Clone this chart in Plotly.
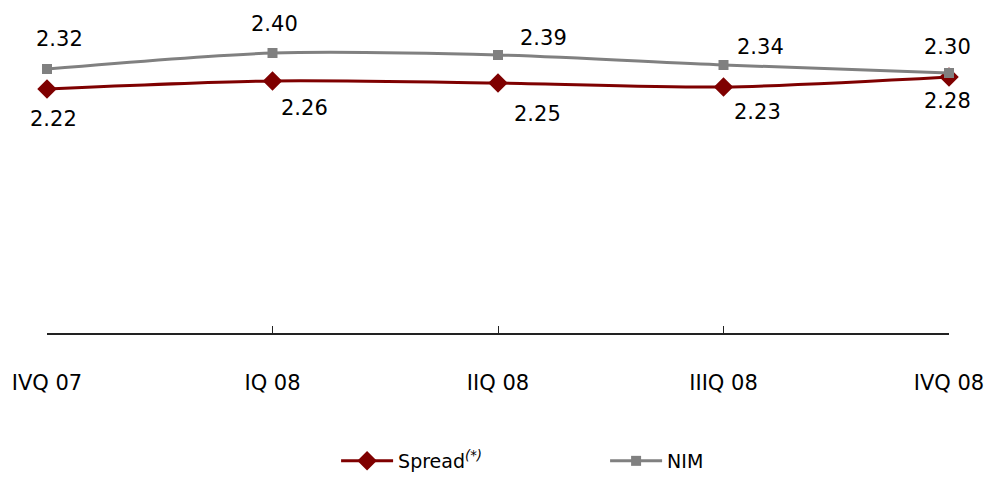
import plotly.graph_objects as go

quarters = ["IVQ 07", "IQ 08", "IIQ 08", "IIIQ 08", "IVQ 08"]
spread = [2.22, 2.26, 2.25, 2.23, 2.28]
nim = [2.32, 2.40, 2.39, 2.34, 2.30]

# label placement relative to each point (px)
nim_label_shift = [(12, 30), (2, 29), (45, 17), (37, 18), (-2, 26)]
spread_label_shift = [(6, -30), (32, -27), (39, -31), (34, -25), (-2, -24)]

RED = "#7f0000"
GRAY = "#808080"
FONT = "DejaVu Sans"

fig = go.Figure()
fig.add_trace(go.Scatter(
    x=quarters, y=spread, name="Spread<sup><i>(*)</i></sup>",
    mode="lines+markers", cliponaxis=False,
    line=dict(color=RED, width=3, shape="spline", smoothing=0.8),
    marker=dict(symbol="diamond", size=15, color=RED),
))
fig.add_trace(go.Scatter(
    x=quarters, y=nim, name="NIM",
    mode="lines+markers", cliponaxis=False,
    line=dict(color=GRAY, width=3, shape="spline", smoothing=0.8),
    marker=dict(symbol="square", size=10, color=GRAY),
))

annotations = []
for q, v, (dx, dy) in zip(quarters, nim, nim_label_shift):
    annotations.append(dict(x=q, y=v, text=f"{v:.2f}", showarrow=False,
                            xshift=dx, yshift=dy,
                            font=dict(family=FONT, size=21, color="#000")))
for q, v, (dx, dy) in zip(quarters, spread, spread_label_shift):
    annotations.append(dict(x=q, y=v, text=f"{v:.2f}", showarrow=False,
                            xshift=dx, yshift=dy,
                            font=dict(family=FONT, size=21, color="#000")))

fig.update_layout(
    width=996, height=504,
    margin=dict(l=45, r=44, t=13, b=171),
    paper_bgcolor="white", plot_bgcolor="white",
    showlegend=True,
    legend=dict(orientation="h", x=0.3205, xanchor="left", y=-0.40, yanchor="middle",
                font=dict(family=FONT, size=19, color="#000"),
                itemwidth=52, entrywidth=202, traceorder="normal"),
    annotations=annotations,
    xaxis=dict(type="category", range=[0, 4], showgrid=False, zeroline=False,
               showline=True, linecolor="#222", linewidth=1.5,
               ticks="inside", ticklen=7, tickwidth=1.3, tickcolor="#222",
               ticklabelstandoff=30,
               tickfont=dict(family=FONT, size=21, color="#000")),
    yaxis=dict(range=[1.0, 2.6], visible=False, showgrid=False, zeroline=False),
)

fig.write_html("out.html")
